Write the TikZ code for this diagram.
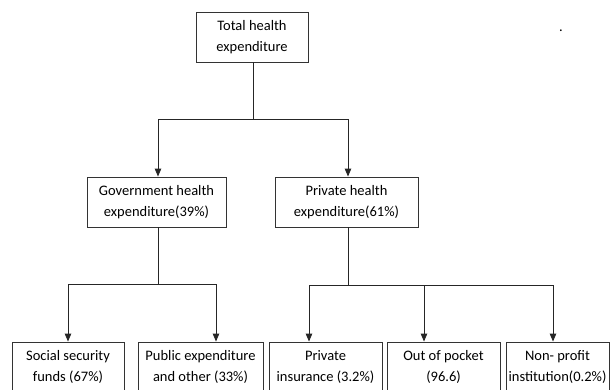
\documentclass[tikz,border=0pt]{standalone}
\usepackage{fontspec}
\setmainfont{Carlito}
\usetikzlibrary{arrows.meta}
\begin{document}
\begin{tikzpicture}[x=1pt,y=1pt,
  box/.style={draw=black!80, line width=0.9pt, minimum height=50pt, align=center, inner sep=2pt,
    font=\fontsize{14.5}{20.5}\selectfont},
  conn/.style={draw=black!85, line width=0.9pt},
  arr/.style={conn, -{Triangle[width=6.5pt,length=8pt]}}]
\clip (0,0) rectangle (615,389);
\useasboundingbox (0,0) rectangle (615,389);
\fill[white] (0,0) rectangle (615,389);
\node[box, minimum width=112pt] (top) at (252,352) {Total health\\expenditure};
\node[box, minimum width=139pt] (gov) at (156.5,187) {Government health\\expenditure(39\%)};
\node[box, minimum width=143pt] (priv) at (346.5,187) {Private health\\expenditure(61\%)};
\node[box, minimum width=112pt] (soc) at (68,22) {Social security\\funds (67\%)};
\node[box, minimum width=125pt] (pub) at (200.5,22) {Public expenditure\\and other (33\%)};
\node[box, minimum width=113pt] (ins) at (325.5,22) {Private\\insurance (3.2\%)};
\node[box, minimum width=113pt] (oop) at (443.5,22) {Out of pocket\\(96.6)};
\node[box, minimum width=103pt] (np) at (557.5,22) {Non- profit\\institution(0.2\%)};
\node[font=\fontsize{14.5}{20}\selectfont, inner sep=0pt] (dot) at (561,358) {.};
\coordinate (j1) at (253,270);
\coordinate (j2) at (158,105);
\coordinate (j3) at (348,104);
\draw[conn] (top.south -| j1) -- (j1);
\draw[arr] (j1) -| ([xshift=1.5pt]gov.north);
\draw[arr] (j1) -| ([xshift=1.5pt]priv.north);
\draw[conn] (gov.south -| j2) -- (j2);
\draw[arr] (j2) -| (soc.north);
\draw[arr] (j2) -| ([xshift=15.5pt]pub.north);
\draw[conn] (priv.south -| j3) -- (j3);
\draw[arr] (j3) -| ([xshift=-16.5pt]ins.north);
\draw[arr] (j3) -| ([xshift=-19.5pt]oop.north);
\draw[arr] (j3) -| ([xshift=-4.5pt]np.north);
\end{tikzpicture}
\end{document}
